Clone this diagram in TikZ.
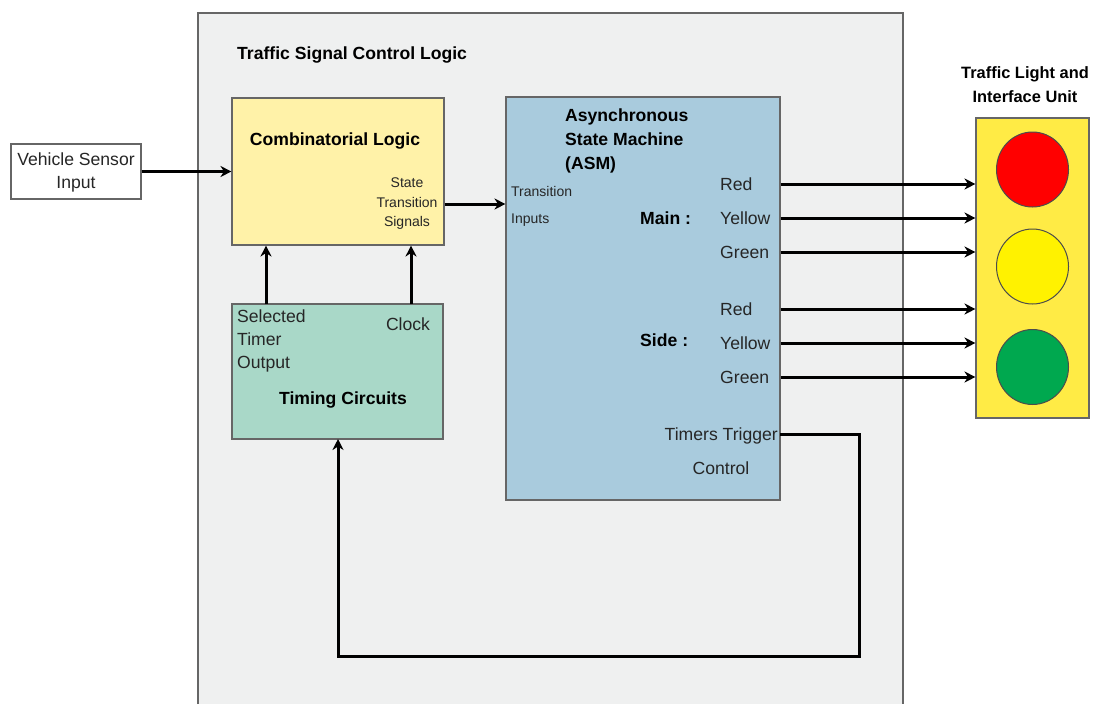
\documentclass[tikz,border=0pt]{standalone}
\usepackage{fontspec}
\setmainfont{Liberation Sans}
\usetikzlibrary{arrows.meta,shapes.geometric}

\definecolor{panelfill}{HTML}{EFF0F0}
\definecolor{logicfill}{HTML}{FFF2A8}
\definecolor{timingfill}{HTML}{A9D8C8}
\definecolor{asmfill}{HTML}{A9CBDD}
\definecolor{unitfill}{HTML}{FFEB45}
\definecolor{lampgreen}{HTML}{00A84F}

\tikzset{
  blockbox/.style={draw=black!60, line width=1.1pt, inner sep=0pt},
  signal/.style={line width=3pt, -{Stealth[length=11pt,width=11pt]}},
  lamp/.style={draw=black!70, line width=1pt, ellipse, minimum width=72pt, minimum height=75pt},
  plain/.style={inner sep=0pt, text=black!85, font=\fontsize{17.6}{23}\selectfont, align=center},
  heading/.style={inner sep=0pt, font=\fontsize{17.6}{24}\selectfont\bfseries, align=left},
  tiny/.style={inner sep=0pt, text=black!85, font=\fontsize{14}{19.5}\selectfont, align=center},
}

\begin{document}
\begin{tikzpicture}[x=1pt,y=-1pt]
\useasboundingbox (0,0) rectangle (1099,704);

% painel de controle
\fill[panelfill] (198,13) rectangle (903,704);
\draw[black!60, line width=1.1pt] (198,704) |- (903,13) -- (903,704);
\node[heading, anchor=west] (paneltitle) at (237,55) {Traffic Signal Control Logic};

% blocos
\node[blockbox, fill=white, minimum width=130pt, minimum height=55pt] (sensor) at (76,171.5) {};
\node[blockbox, fill=logicfill, minimum width=212pt, minimum height=147pt] (logic) at (338,171.5) {};
\node[blockbox, fill=timingfill, minimum width=211pt, minimum height=135pt] (timing) at (337.5,371.5) {};
\node[blockbox, fill=asmfill, minimum width=274pt, minimum height=403pt] (asm) at (643,298.5) {};
\node[blockbox, fill=unitfill, minimum width=113pt, minimum height=300pt] (unit) at (1032.5,268) {};

% lâmpadas
\node[lamp, fill=red] (lampred) at (1032.5,169.5) {};
\node[lamp, fill=yellow] (lampyellow) at (1032.5,266.5) {};
\node[lamp, fill=lampgreen] (lampgreen) at (1032.5,367) {};

% textos dos blocos
\node[plain] (sensorlabel) at (76,172) {Vehicle Sensor\\Input};
\node[heading] (logiclabel) at (335,140.5) {Combinatorial Logic};
\node[tiny] (statelabel) at (407,204) {State\\Transition\\Signals};
\node[plain, align=left, anchor=west] (timerlabel) at (237,341) {Selected\\Timer\\Output};
\node[plain] (clocklabel) at (408,324) {Clock};
\node[heading] (timinglabel) at (343,399.5) {Timing Circuits};
\node[heading, anchor=west] (asmlabel) at (565,141) {Asynchronous\\State Machine\\(ASM)};
\node[tiny, anchor=west] (translabel) at (511,191) {Transition};
\node[tiny, anchor=west] (inputslabel) at (511,220) {Inputs};
\node[heading, anchor=west] (mainlabel) at (640,218) {Main :};
\node[heading, anchor=west] (sidelabel) at (640,340) {Side :};
\node[plain, anchor=east] (triggerlabel) at (778,435.5) {Timers Trigger};
\node[plain] (controllabel) at (721,468) {Control};
\node[heading, align=center, font=\fontsize{16.4}{24}\selectfont\bfseries] (unitlabel) at (1025,85) {Traffic Light and\\Interface Unit};

% saídas da máquina de estados
\foreach \name/\txt/\y in {mr/Red/184, my/Yellow/218, mg/Green/252, sr/Red/309, sy/Yellow/343, sg/Green/377} {
  \node[plain, anchor=west] (\name) at (720,\y) {\txt};
  \draw[signal] (asm.east |- \name) -- (unit.west |- \name);
}

% conexões
\draw[signal] (sensor.east) -- (logic.west);
\coordinate (stateout) at (logic.east |- statelabel);
\draw[signal] (stateout) -- (asm.west |- stateout);
\coordinate (timerout) at (266,304);
\coordinate (clockout) at (411,304);
\draw[signal] (timerout) -- (timerout |- logic.south);
\draw[signal] (clockout) -- (clockout |- logic.south);
\coordinate (trigout) at (780,434);
\coordinate (loopright) at (859,656);
\coordinate (timingin) at (338,439);
\draw[signal] (trigout) -| (loopright) -| (timingin);

\end{tikzpicture}
\end{document}
